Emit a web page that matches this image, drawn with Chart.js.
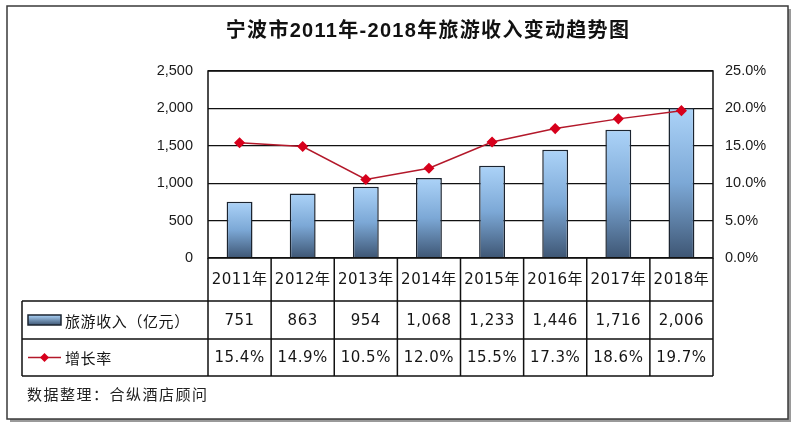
<!DOCTYPE html>
<html>
<head>
<meta charset="utf-8">
<script src="https://cdn.jsdelivr.net/npm/chart.js@4.4.1/dist/chart.umd.min.js"></script>
<style>
  html, body { margin: 0; padding: 0; background: #fff; }
  #wrap { width: 800px; height: 426px; }
</style>
</head>
<body>
<div id="wrap"><canvas id="chart" width="800" height="426"></canvas></div>
<script>
// 数据
const years = ['2011年', '2012年', '2013年', '2014年', '2015年', '2016年', '2017年', '2018年'];
const revenue = [751, 863, 954, 1068, 1233, 1446, 1716, 2006];       // 旅游收入（亿元）
const growthRate = [15.4, 14.9, 10.5, 12.0, 15.5, 17.3, 18.6, 19.7]; // 增长率 %
const seriesLabels = ['旅游收入（亿元）', '增长率'];
const chartTitle = '宁波市2011年-2018年旅游收入变动趋势图';
const sourceNote = '数据整理：合纵酒店顾问';

const CJK = '"Noto Sans CJK SC"';
const TABLE_FONT = '15px "DejaVu Sans", ' + CJK;

// 每根柱子自己的渐变（上浅下深）
function barGradient(ctx) {
    const chart = ctx.chart;
    if (!chart.chartArea || ctx.parsed === undefined) return '#7aa6d4';
    const yScale = chart.scales.y;
    const top = yScale.getPixelForValue(ctx.parsed.y);
    const bottom = yScale.getPixelForValue(0);
    const g = chart.ctx.createLinearGradient(0, top, 0, bottom);
    g.addColorStop(0, '#acd3f8');
    g.addColorStop(0.5, '#7ca8d6');
    g.addColorStop(1, '#3e5674');
    return g;
}

function drawDiamond(ctx, x, y, r, color) {
    ctx.beginPath();
    ctx.moveTo(x, y - r);
    ctx.lineTo(x + r, y);
    ctx.lineTo(x, y + r);
    ctx.lineTo(x - r, y);
    ctx.closePath();
    ctx.fillStyle = color;
    ctx.fill();
}

const tablePlugin = {
    id: 'dataTable',
    beforeDraw(chart) {
        const ctx = chart.ctx;
        ctx.save();
        ctx.fillStyle = '#fff';
        ctx.fillRect(0, 0, chart.width, chart.height);

        // 外框 + 阴影
        ctx.fillStyle = '#9a9a9a';
        ctx.fillRect(10, 9, 781, 413);
        ctx.fillStyle = '#fff';
        ctx.fillRect(7, 6, 781, 413);
        ctx.strokeStyle = '#3a3a3a';
        ctx.lineWidth = 1.5;
        ctx.strokeRect(7, 6, 781, 413);

        // 标题
        ctx.fillStyle = '#111';
        ctx.font = 'bold 20px "Liberation Sans", ' + CJK;
        ctx.letterSpacing = '1.3px';
        ctx.textAlign = 'center';
        ctx.textBaseline = 'middle';
        ctx.fillText(chartTitle, 428, 31);
        ctx.restore();
    },
    afterDraw(chart) {
        const ctx = chart.ctx;
        const area = chart.chartArea;
        const x = chart.scales.x;
        const colW = (area.right - area.left) / years.length;
        const rowYear = area.bottom + 43;
        const rowRev = rowYear + 38;
        const rowRate = rowRev + 37;
        const legendLeft = 22;

        ctx.save();
        ctx.strokeStyle = '#111';
        ctx.lineWidth = 1.5;

        // 绘图区边框
        ctx.strokeRect(area.left, area.top, area.right - area.left, area.bottom - area.top);

        // 表格横线
        ctx.beginPath();
        [rowYear, rowRev, rowRate].forEach(yy => {
            ctx.moveTo(legendLeft, yy);
            ctx.lineTo(area.right, yy);
        });
        // 表格竖线
        ctx.moveTo(legendLeft, rowYear);
        ctx.lineTo(legendLeft, rowRate);
        for (let i = 0; i <= years.length; i++) {
            const xx = area.left + i * colW;
            ctx.moveTo(xx, area.bottom);
            ctx.lineTo(xx, rowRate);
        }
        ctx.stroke();

        // 表格文字
        ctx.fillStyle = '#151515';
        ctx.font = TABLE_FONT;
        ctx.letterSpacing = '0.5px';
        ctx.textAlign = 'center';
        ctx.textBaseline = 'middle';
        years.forEach((yr, i) => {
            const cx = x.getPixelForValue(i);
            ctx.fillText(yr, cx, (area.bottom + rowYear) / 2 + 1);
            ctx.fillText(revenue[i].toLocaleString('en-US'), cx, (rowYear + rowRev) / 2 + 1);
            ctx.fillText(growthRate[i].toFixed(1) + '%', cx, (rowRev + rowRate) / 2 + 1);
        });

        // 图例：柱形
        const iconX = 28, iconW = 33;
        const revY = (rowYear + rowRev) / 2;
        const g = ctx.createLinearGradient(0, revY - 5, 0, revY + 5);
        g.addColorStop(0, '#acd3f8');
        g.addColorStop(1, '#3e5674');
        ctx.fillStyle = g;
        ctx.fillRect(iconX, revY - 5, iconW, 10);
        ctx.lineWidth = 1.5;
        ctx.strokeStyle = '#1b2430';
        ctx.strokeRect(iconX, revY - 5, iconW, 10);

        // 图例：折线
        const rateY = (rowRev + rowRate) / 2;
        ctx.beginPath();
        ctx.moveTo(iconX, rateY);
        ctx.lineTo(iconX + iconW, rateY);
        ctx.strokeStyle = '#b3182a';
        ctx.lineWidth = 1.5;
        ctx.stroke();
        drawDiamond(ctx, iconX + iconW / 2, rateY, 4.5, '#d7001c');

        ctx.fillStyle = '#151515';
        ctx.font = '15px ' + CJK;
        ctx.letterSpacing = '0.6px';
        ctx.textAlign = 'left';
        ctx.fillText(seriesLabels[0], 65, revY + 1);
        ctx.fillText(seriesLabels[1], 65, rateY + 1);

        // 数据来源
        ctx.fillStyle = '#222';
        ctx.font = '15px ' + CJK;
        ctx.letterSpacing = '1.5px';
        ctx.fillText(sourceNote, 27, rowRate + 18);
        ctx.restore();
    }
};

new Chart(document.getElementById('chart'), {
    data: {
        labels: years,
        datasets: [
            {
                type: 'line',
                label: seriesLabels[1],
                data: growthRate,
                yAxisID: 'y1',
                borderColor: '#b3182a',
                borderWidth: 1.5,
                pointStyle: 'rectRot',
                pointRadius: 4.5,
                pointBackgroundColor: '#d7001c',
                pointBorderColor: '#d7001c',
                tension: 0,
                order: 0
            },
            {
                type: 'bar',
                label: seriesLabels[0],
                data: revenue,
                yAxisID: 'y',
                backgroundColor: barGradient,
                borderColor: '#1b2430',
                borderWidth: 1.5,
                categoryPercentage: 1,
                barPercentage: 0.41,
                order: 1
            }
        ]
    },
    options: {
        responsive: false,
        animation: false,
        devicePixelRatio: 1,
        layout: { padding: { top: 71, bottom: 168, left: 0, right: 0 } },
        plugins: {
            legend: { display: false },
            title: { display: false },
            tooltip: { enabled: false }
        },
        scales: {
            x: { display: false },
            y: {
                position: 'left',
                min: 0,
                max: 2500,
                afterFit: s => { s.width = 208; },
                ticks: {
                    stepSize: 500,
                    padding: 15,
                    color: '#1a1a1a',
                    font: { family: '"Liberation Sans", Arial', size: 14.5 },
                    callback: v => v.toLocaleString('en-US')
                },
                border: { display: false },
                grid: { color: '#111', lineWidth: 1.3, drawTicks: false }
            },
            y1: {
                position: 'right',
                min: 0,
                max: 25,
                afterFit: s => { s.width = 87; },
                ticks: {
                    stepSize: 5,
                    padding: 12,
                    color: '#1a1a1a',
                    font: { family: '"Liberation Sans", Arial', size: 14.5 },
                    callback: v => v.toFixed(1) + '%'
                },
                border: { display: false },
                grid: { display: false, drawTicks: false }
            }
        }
    },
    plugins: [tablePlugin]
});
</script>
</body>
</html>
